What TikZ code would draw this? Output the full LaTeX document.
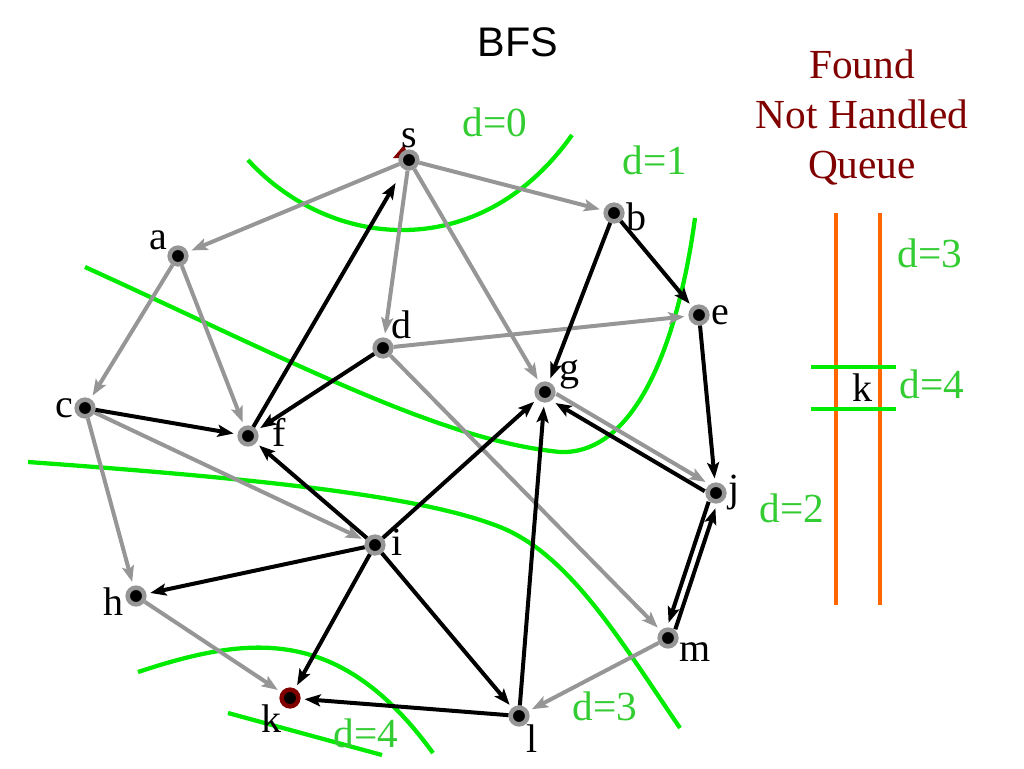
\documentclass[tikz,border=0pt]{standalone}
\usepackage{fontspec}
\setmainfont{Liberation Serif}
\newfontfamily\titlefont{Liberation Sans}
\usetikzlibrary{arrows.meta}
\usetikzlibrary{positioning}
\definecolor{edgegray}{RGB}{150,150,150}
\definecolor{darkred}{RGB}{128,0,0}
\definecolor{levelgreen}{RGB}{0,235,0}
\definecolor{textgreen}{RGB}{51,204,51}
\definecolor{queueorange}{RGB}{255,102,0}
\begin{document}
\begin{tikzpicture}[x=0.75pt,y=-0.75pt,
		vertex/.style={circle,fill=black,draw=edgegray,line width=3.4pt,minimum size=12.5pt,inner sep=0pt},
		every label/.style={font=\fontsize{30}{36}\selectfont,inner sep=0pt},
		label distance=1pt,
		tree/.style={draw=edgegray,line width=3pt,shorten >=3pt,-{Stealth[length=12pt,width=9pt,inset=2.5pt]}},
		back/.style={draw=black,line width=3pt,shorten >=3pt,-{Stealth[length=12pt,width=9pt,inset=2.5pt]}},
		level/.style={draw=levelgreen,line width=3.2pt},
		lvl/.style={text=textgreen,font=\fontsize{31}{36}\selectfont,inner sep=0pt}]
		\useasboundingbox (0,0) rectangle (1024,768);
		% title and queue header
		\node (title) [font=\titlefont\fontsize{31}{36}\selectfont] at (518,42) {BFS};
		\node (qhead) [text=darkred,align=center,font=\fontsize{31}{37.5}\selectfont] at (862,118) {Found\\Not Handled\\Queue};
		% level curves
		\draw[level] (248,160) .. controls (330,250) and (480,265) .. (572,135);
		\draw[level] (85,267) .. controls (300,365) and (440,440) .. (560,452) .. controls (640,455) and (680,330) .. (695,218);
		\draw[level] (28,462) .. controls (250,478) and (420,495) .. (500,527) .. controls (570,555) and (620,640) .. (680,728);
		\draw[level] (138,672) .. controls (250,635) and (340,625) .. (433,753);
		\draw[level] (228,713) -- (382,755);
		\node (l0) [lvl] at (495,122) {d=0};
		\node (l1) [lvl] at (655,160) {d=1};
		\node (l2) [lvl] at (792,508) {d=2};
		\node (l3) [lvl] at (605,706) {d=3};
		\node (l4) [lvl] at (366,733) {d=4};
		% vertices
		\fill[darkred] (393,158) -- (404,145) -- (409,158) -- cycle;
		\node (s) [vertex,label=above:s] at (409,160) {};
		\node (a) [vertex,label=150:a] at (178,256) {};
		\node (b) [vertex,label={[yshift=-3pt]right:b}] at (614,213) {};
		\node (e) [vertex,label=right:e] at (699,315) {};
		\node (d) [vertex,label=45:d] at (383,348) {};
		\node (g) [vertex,label={[label distance=3pt]12:g}] at (545,392) {};
		\node (c) [vertex,label=left:c] at (85,408) {};
		\node (f) [vertex,label={[label distance=10pt,yshift=3pt]right:f}] at (248,436) {};
		\node (j) [vertex,label=right:j] at (716,493) {};
		\node (i) [vertex,label={[label distance=4pt,yshift=2pt]right:i}] at (375,545) {};
		\node (h) [vertex,label={[yshift=-4pt]left:h}] at (136,596) {};
		\node (m) [vertex,label=-20:m] at (668,638) {};
		\node (k) [vertex,draw=darkred,label={[label distance=0pt]220:k}] at (290,698) {};
		\node (l) [vertex,label={[label distance=0pt]-50:l}] at (519,716) {};
		% tree edges
		\draw[tree] (s) -- (a);
		\draw[tree] (s) -- (b);
		\draw[tree] (s) -- (d);
		\draw[tree] (s) -- (g);
		\draw[tree] (a) -- (c);
		\draw[tree] (a) -- (f);
		\draw[tree] (d) -- (e);
		\draw[tree] (d) -- (m);
		\draw[tree] (c) -- (i);
		\draw[tree] (c) -- (h);
		\draw[tree] (h) -- (k);
		\draw[tree] (m) -- (l);
		\draw[tree,transform canvas={shift={(1.6pt,2.7pt)}}] (g) -- (j);
		% other edges
		\draw[back,shorten >=12pt] (f) -- (s);
		\draw[back] (b) -- (g);
		\draw[back] (b) -- (e);
		\draw[back] (c) -- (f);
		\draw[back] (d) -- (f);
		\draw[back] (e) -- (j);
		\draw[back] (i) -- (f);
		\draw[back] (i) -- (g);
		\draw[back] (i) -- (h);
		\draw[back] (i) -- (k);
		\draw[back] (i) -- (l);
		\draw[back] (l) -- (g);
		\draw[back] (l) -- (k);
		\draw[back,transform canvas={shift={(-1.6pt,-2.7pt)}}] (j) -- (g);
		\draw[back,transform canvas={shift={(-3pt,1pt)}}] (j) -- (m);
		\draw[back,transform canvas={shift={(3pt,-1pt)}}] (m) -- (j);
		% queue
		\draw[queueorange,line width=3.2pt] (836,213) -- (836,605);
		\draw[queueorange,line width=3.2pt] (880,213) -- (880,605);
		\draw[levelgreen,line width=3.2pt] (811,367) -- (896,367);
		\draw[levelgreen,line width=3.2pt] (811,409) -- (896,409);
		\node (qk) [font=\fontsize{30}{36}\selectfont,inner sep=0pt] at (862,388) {k};
		\node (q3) [lvl] at (930,253) {d=3};
		\node (q4) [lvl] at (932,384) {d=4};
	\end{tikzpicture}
\end{document}
